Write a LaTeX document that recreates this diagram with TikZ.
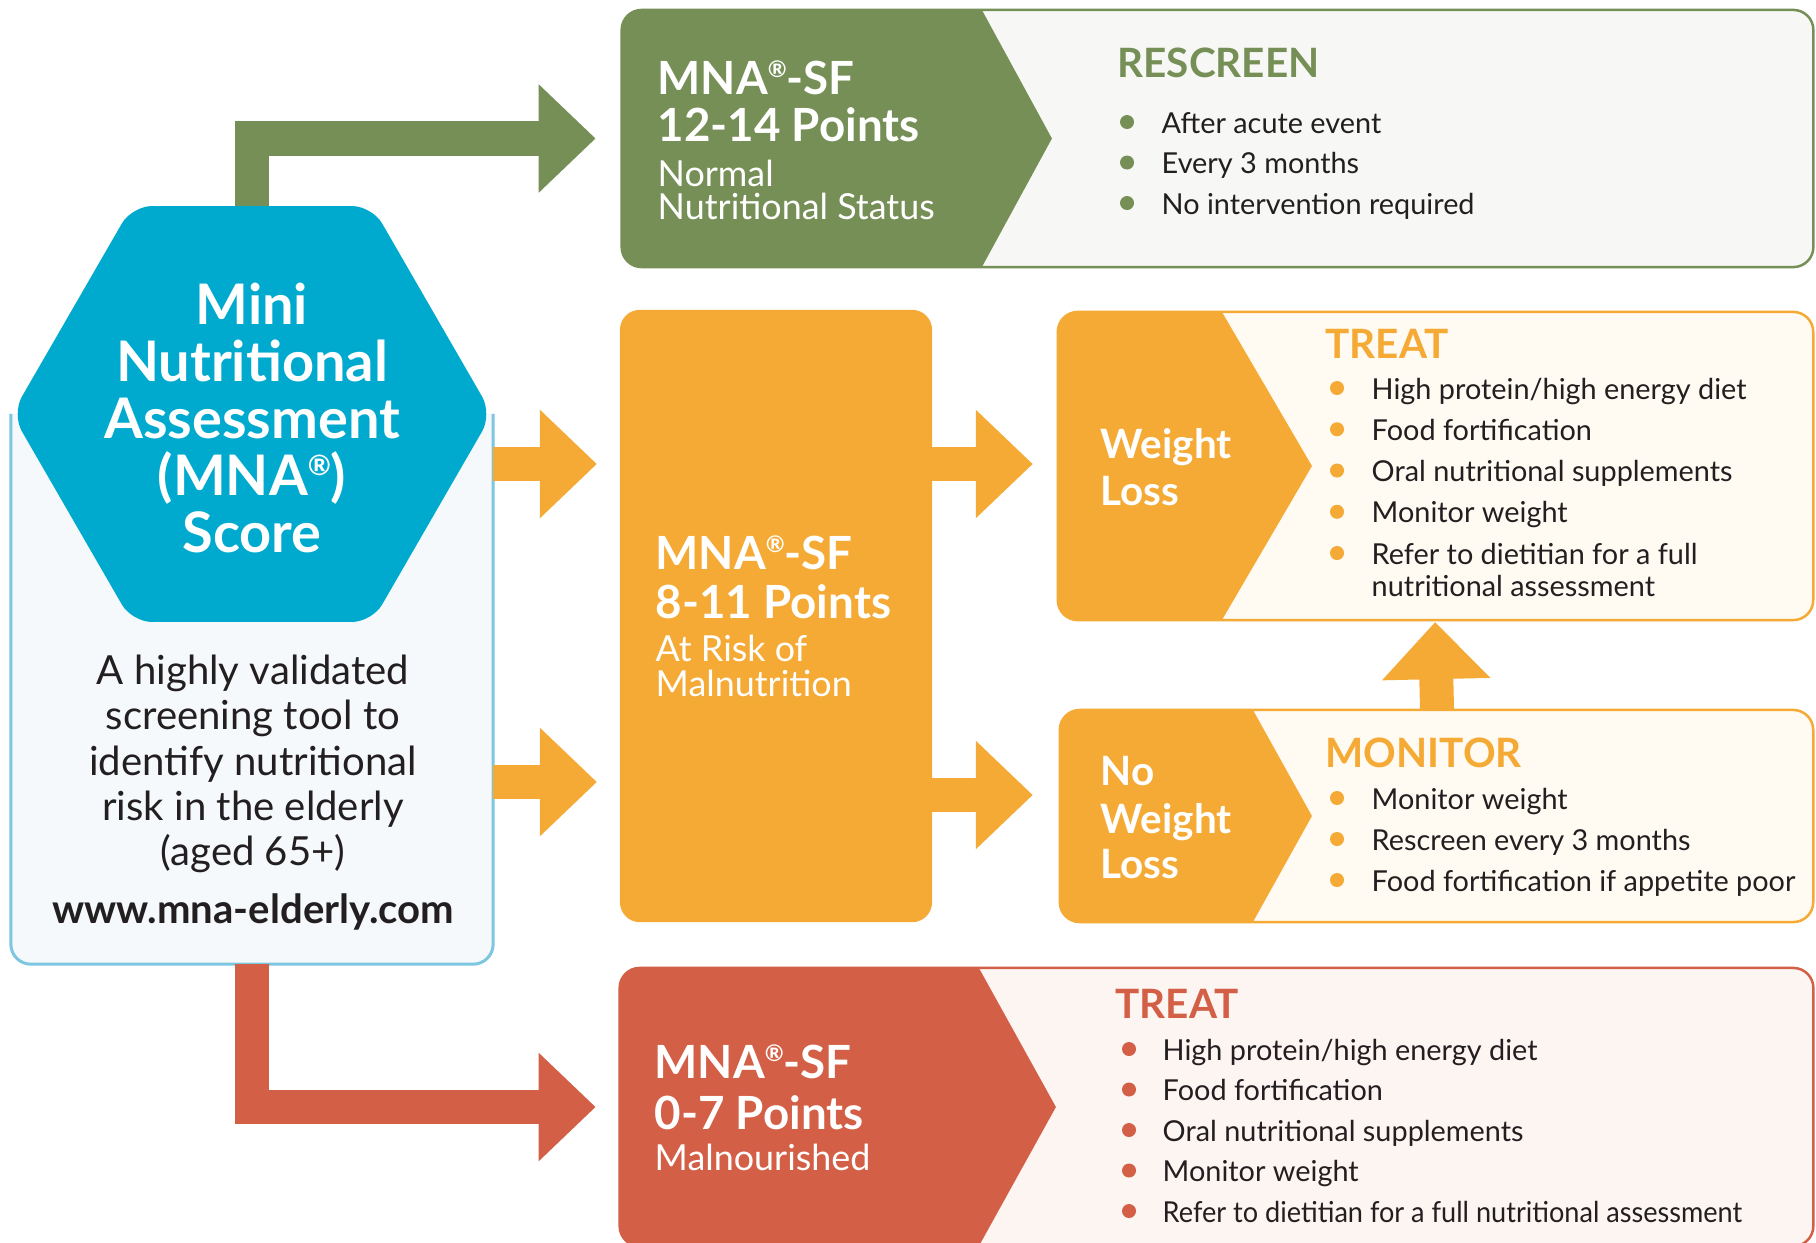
\documentclass[tikz,border=0pt]{standalone}
\usepackage{fontspec}
\setmainfont{Lato}
\usetikzlibrary{arrows.meta,shapes.geometric}

\definecolor{mnagreen}{HTML}{768F56}
\definecolor{mnaorange}{HTML}{F5AA35}
\definecolor{mnared}{HTML}{D45F47}
\definecolor{mnablue}{HTML}{00AACF}
\definecolor{infoline}{HTML}{7CC6DF}
\definecolor{infofill}{HTML}{F5F9FC}
\definecolor{greenfill}{HTML}{F7F8F5}
\definecolor{orangefill}{HTML}{FFFAF2}
\definecolor{redfill}{HTML}{FCF5F2}
\definecolor{itemtext}{HTML}{231F20}

% small raised registered sign
\newcommand\regd{\raisebox{0.36em}{\scalebox{0.5}{®}}}

\tikzset{
  box/.style={rectangle, rounded corners=0.2cm, inner sep=0pt, outer sep=0pt, line width=0.025cm},
  hexagon/.style={regular polygon, regular polygon sides=6,
    minimum size=4.8cm, inner sep=0pt, outer sep=0pt, rounded corners=0.2cm, fill=mnablue},
  flow/.style={line width=0.34cm, line join=miter, -{Triangle[length=0.57cm, width=1.05cm]}},
  tagtitle/.style={white, font=\fontsize{13}{13}\selectfont\bfseries, anchor=base west, inner sep=0pt},
  tagword/.style={white, font=\fontsize{11.5}{11.5}\selectfont\bfseries, anchor=base west, inner sep=0pt},
  tagsub/.style={white, font=\fontsize{10.2}{10.2}\selectfont, anchor=base west, inner sep=0pt},
  heading/.style={font=\fontsize{11.5}{11.5}\selectfont\bfseries, anchor=base west, inner sep=0pt},
  item/.style={itemtext, font=\fontsize{8.2}{8.2}\selectfont, anchor=base west, inner sep=0pt},
}

% coloured tag with a pointed right side, inside a rounded box
\newcommand\tagfill[4]{%
  \begin{scope}
    \clip[rounded corners=0.2cm] (#1.north west) rectangle (#1.south east);
    \fill[#2] (#1.north west) -- ([xshift=#3]#1.north west) -- ([xshift=#4]#1.west)
      -- ([xshift=#3]#1.south west) -- (#1.south west) -- cycle;
  \end{scope}}

\begin{document}
\begin{tikzpicture}[x=0.01cm, y=-0.01cm]
  \useasboundingbox (0,0) rectangle (1816,1242);
  \clip (0,0) rectangle (1816,1242);
  \fill[white] (0,0) rectangle (1816,1242);

  % score box with hexagon on top
  \node[inner sep=0pt, outer sep=0pt, minimum width=4.82cm, minimum height=5.5cm] (info) at (252,689) {};
  \draw[infoline, fill=infofill, line width=0.03cm, rounded corners=0.2cm]
    (info.north west) -- (info.south west) -- (info.south east) -- (info.north east);
  \node[hexagon] (hex) at (252,414) {};
  \node[white, align=center, font=\fontsize{15.9}{16.2}\selectfont\bfseries] (hextitle) at (252,418)
    {Mini\\Nutritional\\Assessment\\(MNA\regd)\\Score};
  \node[itemtext, align=center, font=\fontsize{11.4}{12.9}\selectfont] (blurb) at (253,764)
    {A highly validated\\screening tool to\\identify nutritional\\risk in the elderly\\(aged 65+)};
  \node[itemtext, anchor=base, inner sep=0pt, font=\fontsize{11.4}{11.4}\selectfont\bfseries] (url)
    at (253,923) {www.mna-elderly.com};

  % result boxes
  \node[box, draw=mnagreen, fill=greenfill, minimum width=11.91cm, minimum height=2.57cm] (normal) at (1217.5,138.5) {};
  \node[box, fill=mnaorange, minimum width=3.12cm, minimum height=6.12cm] (risk) at (776,616) {};
  \node[box, draw=mnaorange, fill=orangefill, minimum width=7.55cm, minimum height=3.08cm] (wl) at (1435.5,466) {};
  \node[box, draw=mnaorange, fill=orangefill, minimum width=7.53cm, minimum height=2.12cm] (nwl) at (1436.5,816) {};
  \node[box, draw=mnared, fill=redfill, minimum width=11.93cm, minimum height=2.78cm] (mal) at (1216.5,1107) {};

  \tagfill{normal}{mnagreen}{3.6cm}{4.3cm}
  \tagfill{wl}{mnaorange}{1.64cm}{2.54cm}
  \tagfill{nwl}{mnaorange}{1.93cm}{2.52cm}
  \tagfill{mal}{mnared}{3.59cm}{4.36cm}

  % arrows
  \coordinate (rowA) at (0,464);
  \coordinate (rowB) at (0,782);
  \coordinate (rowC) at (0,795);
  \draw[flow, mnagreen, shorten >=0.26cm] (hex.north) |- (normal.west);
  \draw[flow, mnared, shorten >=0.24cm] (info.south) |- (mal.west);
  \draw[flow, mnaorange, shorten >=0.23cm] (info.east |- rowA) -- (risk.west |- rowA);
  \draw[flow, mnaorange, shorten >=0.23cm] (info.east |- rowB) -- (risk.west |- rowB);
  \draw[flow, mnaorange, shorten >=0.25cm] (risk.east |- rowA) -- (wl.west |- rowA);
  \draw[flow, mnaorange, shorten >=0.27cm] (risk.east |- rowC) -- (nwl.west |- rowC);
  \draw[flow, mnaorange, shorten >=0.02cm] ([xshift=3.77cm]nwl.north west) -- ([xshift=3.77cm]wl.south west);

  % tag texts
  \node[tagtitle] (normal-1) at (657,94) {MNA\regd-SF};
  \node[tagtitle] (normal-2) at (657,141) {12-14 Points};
  \node[tagsub] (normal-3) at (657,186) {Normal};
  \node[tagsub] (normal-4) at (657,219) {Nutritional Status};

  \node[tagtitle] (risk-1) at (655,569) {MNA\regd-SF};
  \node[tagtitle] (risk-2) at (655,618) {8-11 Points};
  \node[tagsub] (risk-3) at (655,661) {At Risk of};
  \node[tagsub] (risk-4) at (655,696) {Malnutrition};

  \node[tagtitle] (mal-1) at (654,1078) {MNA\regd-SF};
  \node[tagtitle] (mal-2) at (654,1129) {0-7 Points};
  \node[tagsub] (mal-3) at (654,1170) {Malnourished};

  \node[tagword] (wl-1) at (1100,458) {Weight};
  \node[tagword] (wl-2) at (1100,505) {Loss};
  \node[tagword] (nwl-1) at (1100,785) {No};
  \node[tagword] (nwl-2) at (1100,833) {Weight};
  \node[tagword] (nwl-3) at (1100,878) {Loss};

  % what to do
  \node[heading, mnagreen] (rescreen) at (1117,77) {RESCREEN};
  \foreach \txt [count=\i] in {After acute event, Every 3 months, No intervention required} {
    \fill[mnagreen] (1127,{81.5+40.5*\i}) circle (7);
    \node[item] (rescreen-\i) at (1161,{92.5+40.5*\i}) {\txt};
  }

  \node[heading, mnaorange] (treat-wl) at (1325,358) {TREAT};
  \foreach \txt [count=\i] in {{High protein/high energy diet}, Food fortification,
      Oral nutritional supplements, Monitor weight, Refer to dietitian for a full} {
    \fill[mnaorange] (1337,{346.75+41.25*\i}) circle (7);
    \node[item] (treat-wl-\i) at (1371,{357.75+41.25*\i}) {\txt};
  }
  \node[item] (treat-wl-6) at (1371,596) {nutritional assessment};

  \node[heading, mnaorange] (monitor) at (1325,767) {MONITOR};
  \foreach \txt [count=\i] in {Monitor weight, Rescreen every 3 months, Food fortification if appetite poor} {
    \fill[mnaorange] (1337,{757+41*\i}) circle (7);
    \node[item] (monitor-\i) at (1371,{768+41*\i}) {\txt};
  }

  \node[heading, mnared] (treat-mal) at (1115,1018) {TREAT};
  \foreach \txt [count=\i] in {{High protein/high energy diet}, Food fortification,
      Oral nutritional supplements, Monitor weight,
      {\scalebox{0.94}[1]{Refer to dietitian for a full nutritional assessment}}} {
    \fill[mnared] (1129,{1008.5+40.5*\i}) circle (7);
    \node[item] (treat-mal-\i) at (1162,{1019.5+40.5*\i}) {\txt};
  }
\end{tikzpicture}
\end{document}
